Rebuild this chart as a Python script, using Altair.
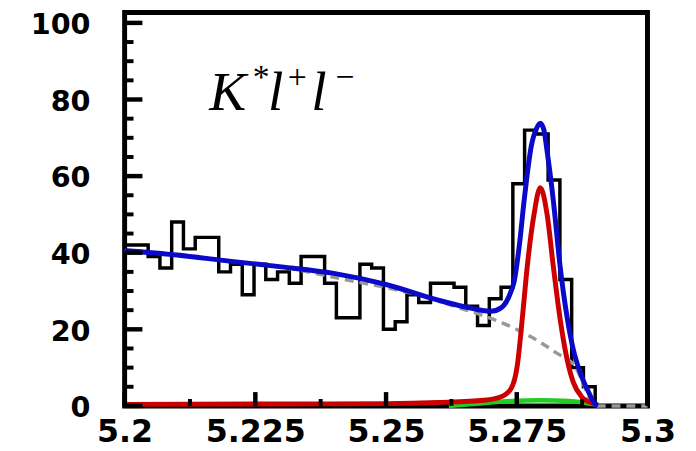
import altair as alt
import pandas as pd

# ---------------- data ----------------
# Histogram: 40 bins of width 0.00225 GeV from 5.20 to 5.29
bin_start = 5.2
bin_width = 0.00225
hist_counts = [42, 42, 39, 36, 48, 41, 44, 44, 35, 37,
               29, 37, 33, 35, 32, 39, 39, 32, 23, 23,
               37, 36, 20, 22, 29, 27, 32, 32, 31, 26,
               21, 28, 31, 58, 72, 71, 59, 33, 10, 5]

# Total fit (blue)
total_x = [5.2, 5.21, 5.22, 5.23, 5.24, 5.25, 5.26, 5.265, 5.27, 5.272,
           5.2739, 5.2745, 5.2755, 5.2764, 5.2778, 5.2788, 5.2795, 5.2802,
           5.2808, 5.282, 5.2833, 5.2846, 5.2858, 5.2871, 5.2887, 5.2899, 5.2905]
total_y = [40.6, 39.4, 37.8, 36.3, 34.6, 31.7, 27.6, 25.9, 24.7, 25.6,
           29.9, 32.5, 42, 53.5, 68, 72.5, 73.8, 72,
           66.5, 53.5, 36.3, 23.4, 14.8, 8.8, 3.7, 0.6, 0]

# Combinatorial background (grey dashed)
bkg_x = [5.2, 5.21, 5.22, 5.23, 5.241, 5.252, 5.2584, 5.2631, 5.2679, 5.2722,
         5.2779, 5.2824, 5.2862, 5.288, 5.2895, 5.3]
bkg_y = [40.6, 39.4, 37.8, 36.3, 33.3, 30.3, 28.2, 26.0, 23.9, 21.7,
         17.9, 14.0, 10.1, 5.0, 0, 0]

# Signal (red)
sig_x = [5.2, 5.23, 5.25, 5.26, 5.2688, 5.272, 5.2739, 5.2751, 5.2761, 5.277,
         5.2783, 5.2795, 5.2808, 5.282, 5.2833, 5.2846, 5.2858, 5.2874, 5.2896, 5.2905]
sig_y = [0.4, 0.5, 0.6, 0.9, 1.5, 2.4, 4.5, 10.5, 23.4, 36.3,
         50, 57, 50, 36.3, 22.6, 12.3, 6.2, 2.4, 0.6, 0.3]

# Peaking background (green)
peak_x = [5.262, 5.266, 5.27, 5.274, 5.2795, 5.285, 5.288, 5.2905]
peak_y = [0.0, 0.4, 0.9, 1.3, 1.5, 1.3, 0.8, 0.2]

# Axes
x_ticks = [5.2, 5.225, 5.25, 5.275, 5.3]
x_minor = [5.2125, 5.2375, 5.2625, 5.2875]
y_ticks = [0, 20, 40, 60, 80, 100]
y_minor = [5, 10, 15, 25, 30, 35, 45, 50, 55, 65, 70, 75, 85, 90, 95]

# Label pieces: K* l+ l-
label_main = ["K", "l", "l"]
label_main_x = [5.2162, 5.2274, 5.2357]
label_main_y = [77.3, 77.3, 77.3]
label_sup = ["*", "+", "\u2212"]
label_sup_x = [5.2261, 5.2330, 5.2422]
label_sup_y = [83.0, 83.0, 83.0]

# ---------------- chart ----------------
W, H = 529, 398
XDOM = [5.2, 5.3]
YDOM = [0, 102.7]

edges = [bin_start + i * bin_width for i in range(len(hist_counts) + 1)]
hist_df = pd.DataFrame({"x": edges, "y": hist_counts + [0]})

xs = alt.Scale(domain=XDOM, nice=False, zero=False)
ys = alt.Scale(domain=YDOM, nice=False)

xenc = alt.X("x:Q", scale=xs,
             axis=alt.Axis(values=x_ticks, format=".3~f", title=None, grid=False,
                           ticks=False, tickSize=0, domain=False, labelPadding=11,
                           labelFont="DejaVu Sans", labelFontWeight="bold",
                           labelFontSize=32, labelColor="black", labelOverlap=False,
                           labelFlush=False))
yenc = alt.Y("y:Q", scale=ys,
             axis=alt.Axis(values=y_ticks, title=None, grid=False, ticks=False,
                           tickSize=0, domain=False, labelPadding=35, labelOffset=2,
                           labelFont="DejaVu Sans", labelFontWeight="bold",
                           labelFontSize=29, labelColor="black", labelOverlap=False,
                           labelFlush=False))

hist = alt.Chart(hist_df).mark_line(interpolate="step-after", color="black",
                                     strokeWidth=3.5).encode(x=xenc, y=yenc)

def curve(xv, yv, **kw):
    df = pd.DataFrame({"x": xv, "y": yv})
    return alt.Chart(df).mark_line(interpolate="monotone", **kw).encode(
        x=alt.X("x:Q", scale=xs), y=alt.Y("y:Q", scale=ys))

bkg = curve(bkg_x, bkg_y, color="#999999", strokeWidth=3.5, strokeDash=[9, 6])
peak = curve(peak_x, peak_y, color="#22cc22", strokeWidth=4.5)
sig = curve(sig_x, sig_y, color="#cc0000", strokeWidth=5)
tot = curve(total_x, total_y, color="#0a0ac8", strokeWidth=5)

ymaj = alt.Chart(pd.DataFrame({"y": y_ticks})).mark_rule(color="black", strokeWidth=4.5).encode(
    y=alt.Y("y:Q", scale=ys), x=alt.value(0), x2=alt.value(18))
ymin = alt.Chart(pd.DataFrame({"y": y_minor})).mark_rule(color="black", strokeWidth=4).encode(
    y=alt.Y("y:Q", scale=ys), x=alt.value(0), x2=alt.value(9))
xmaj = alt.Chart(pd.DataFrame({"x": x_ticks})).mark_rule(color="black", strokeWidth=4.5).encode(
    x=alt.X("x:Q", scale=xs), y=alt.value(H), y2=alt.value(H - 14))
xmin = alt.Chart(pd.DataFrame({"x": x_minor})).mark_rule(color="black", strokeWidth=4).encode(
    x=alt.X("x:Q", scale=xs), y=alt.value(H), y2=alt.value(H - 7))

main_txt = alt.Chart(pd.DataFrame({"x": label_main_x, "y": label_main_y, "t": label_main})).mark_text(
    font="Liberation Serif", fontStyle="italic", fontSize=56, align="left",
    baseline="alphabetic", color="black").encode(
    x=alt.X("x:Q", scale=xs), y=alt.Y("y:Q", scale=ys), text="t:N")
sup_txt = alt.Chart(pd.DataFrame({"x": label_sup_x, "y": label_sup_y, "t": label_sup})).mark_text(
    font="Liberation Serif", fontSize=34, align="center",
    baseline="alphabetic", color="black").encode(
    x=alt.X("x:Q", scale=xs), y=alt.Y("y:Q", scale=ys), text="t:N")

chart = alt.layer(hist, bkg, peak, sig, tot, ymaj, ymin, xmaj, xmin, main_txt, sup_txt).properties(
    width=W, height=H,
    background="white",
    autosize=alt.AutoSizeParams(type="none"),
    padding={"left": 118, "top": 2, "right": 41, "bottom": 43},
).configure_view(stroke="black", strokeWidth=5)

chart.save("out.html", embed_options={"renderer": "svg", "actions": False})
